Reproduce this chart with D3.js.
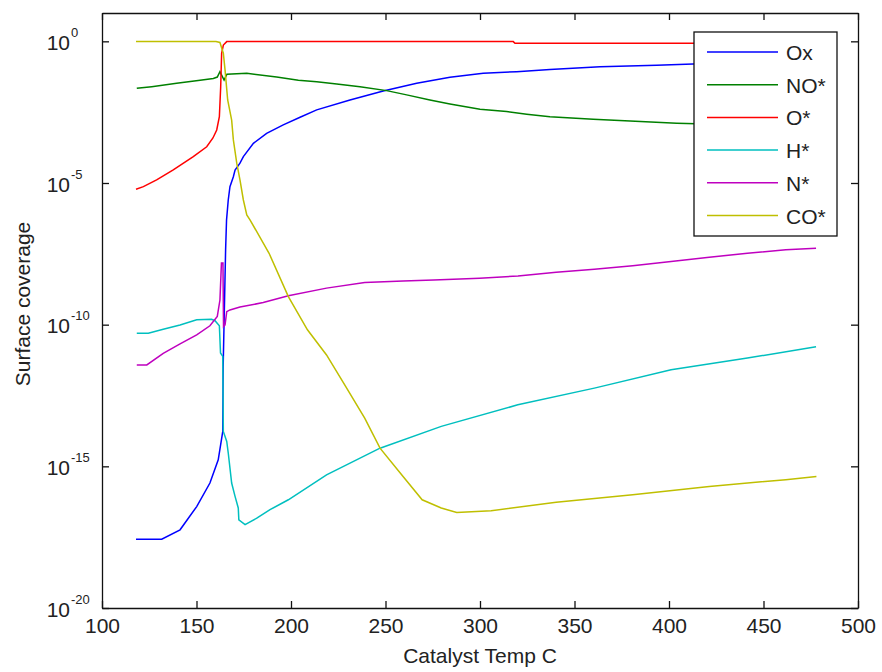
<!DOCTYPE html>
<html>
<head>
<meta charset="utf-8">
<script src="https://cdn.jsdelivr.net/npm/d3@7"></script>
<style>
  body { margin: 0; background: #fff; }
  svg text { font-family: "Liberation Sans", Arial, sans-serif; fill: #222; }
</style>
</head>
<body>
<div id="chart"></div>
<script>
// [catalyst temp C, log10(surface coverage)]
const ox = [[118,-17.57],[131.6,-17.57],[141.3,-17.24],[150.1,-16.42],[157.1,-15.59],[161.5,-14.77],
  [163.9,-13.77],[164.1,-11.5],[165.4,-7.36],[165.9,-6.30],[166.8,-5.60],[167.7,-5.13],[169.5,-4.78],
  [170.4,-4.54],[173.0,-4.30],[174.8,-4.07],[180.1,-3.60],[187.1,-3.25],[195.9,-2.95],[204.8,-2.68],
  [213.6,-2.42],[231.2,-2.07],[248.8,-1.75],[266.5,-1.48],[284.1,-1.27],[301.7,-1.13],[319.4,-1.07],
  [337.0,-0.99],[363.5,-0.90],[393.5,-0.84],[412.7,-0.80],[477.8,-0.69]];
const no = [[118.4,-1.66],[126.3,-1.60],[139.5,-1.48],[151.9,-1.37],[158.9,-1.31],[161.0,-1.26],
  [162.4,-1.07],[164.6,-1.37],[166.1,-1.16],[176.6,-1.13],[192.4,-1.26],[203.9,-1.37],[213.6,-1.43],
  [224.2,-1.51],[236.5,-1.60],[250.6,-1.74],[261.2,-1.89],[273.5,-2.07],[284.1,-2.21],[300.0,-2.40],
  [314.1,-2.48],[324.7,-2.57],[337.0,-2.66],[359.9,-2.75],[379.4,-2.81],[404.1,-2.89],[477.8,-3.02]];
const o = [[118.0,-5.22],[121.9,-5.13],[128.9,-4.89],[137.7,-4.54],[148.3,-4.07],[155.4,-3.72],
  [158.7,-3.41],[160.7,-3.13],[162.1,-2.66],[162.8,-1.60],[163.3,-0.42],[164.2,-0.13],[166.0,-0.01],
  [317.6,-0.01],[318.5,-0.07],[477.8,-0.07]];
const h = [[118.4,-10.30],[124.5,-10.30],[132.4,-10.16],[141.3,-10.01],[150.1,-9.83],[158.0,-9.81],
  [159.8,-9.86],[162.1,-10.04],[162.7,-11.00],[163.9,-11.12],[164.2,-13.77],[166.0,-14.12],
  [166.8,-14.53],[168.6,-15.59],[170.4,-16.06],[172.1,-16.47],[172.4,-16.89],[175.7,-17.06],
  [181.9,-16.83],[188.9,-16.53],[198.6,-16.18],[218.8,-15.30],[247.1,-14.36],[279.5,-13.59],
  [320.0,-12.83],[360.5,-12.24],[401.1,-11.59],[441.5,-11.18],[477.8,-10.78]];
const n = [[118.4,-11.42],[123.7,-11.42],[132.4,-11.01],[141.3,-10.68],[150.1,-10.36],[157.1,-10.04],
  [161.0,-9.71],[162.4,-9.13],[163.2,-7.82],[164.0,-7.82],[164.3,-10.07],[165.1,-10.01],[166.0,-9.54],
  [167.7,-9.48],[173.0,-9.38],[185.3,-9.22],[198.6,-8.98],[218.8,-8.71],[239.0,-8.51],[259.3,-8.46],
  [275.5,-8.42],[299.8,-8.36],[320.1,-8.28],[340.3,-8.15],[360.5,-8.04],[380.8,-7.92],[401.1,-7.77],
  [421.3,-7.62],[441.5,-7.48],[461.8,-7.36],[477.8,-7.30]];
const co = [[118.0,-0.01],[160.3,-0.01],[162.4,-0.04],[164.2,-0.42],[165.1,-1.01],[166.5,-2.07],
  [168.6,-2.78],[169.5,-3.48],[171.3,-4.30],[173.0,-4.89],[174.8,-5.60],[176.6,-6.13],[178.3,-6.30],
  [188.4,-7.48],[198.6,-9.01],[208.7,-10.18],[218.8,-11.07],[228.9,-12.18],[239.0,-13.30],
  [247.1,-14.36],[259.3,-15.36],[269.4,-16.18],[279.5,-16.47],[287.7,-16.63],[305.9,-16.57],
  [340.3,-16.27],[380.8,-16.00],[421.3,-15.71],[461.8,-15.47],[478.0,-15.36]];

const seriesNames = ["Ox", "NO*", "O*", "H*", "N*", "CO*"];
const seriesData = [ox, no, o, h, n, co];
const seriesColors = ["#0000ff", "#008000", "#ff0000", "#00bfbf", "#bf00bf", "#bfbf00"];

const xTicks = [100, 150, 200, 250, 300, 350, 400, 450, 500];
const yTickExp = [0, -5, -10, -15, -20];

const margin = {top: 13, right: 24, bottom: 64, left: 102};
const width = 882 - margin.left - margin.right;
const height = 672 - margin.top - margin.bottom;

const svg = d3.select("#chart").append("svg")
    .attr("width", 882)
    .attr("height", 672)
  .append("g")
    .attr("transform", "translate(" + margin.left + "," + margin.top + ")");

const x = d3.scaleLinear().domain([100, 500]).range([0, width]);
const y = d3.scaleLog().domain([1e-20, 1e1]).range([height, 0]);

// lines
const line = d3.line()
    .x(d => x(d[0]))
    .y(d => y(Math.pow(10, d[1])));

svg.selectAll("path.series")
    .data(seriesData)
  .enter().append("path")
    .attr("class", "series")
    .attr("d", line)
    .attr("fill", "none")
    .attr("stroke", (d, i) => seriesColors[i])
    .attr("stroke-width", 1.5);

// axes (MATLAB style box, ticks pointing inward)
const tickLen = 7;
const xAxis = svg.append("g")
    .attr("transform", "translate(0," + height + ")")
    .call(d3.axisBottom(x).tickValues(xTicks).tickSizeInner(-tickLen).tickSizeOuter(0).tickPadding(10));
xAxis.selectAll("text").style("font-size", "21px");

svg.append("g")
    .call(d3.axisTop(x).tickValues(xTicks).tickSizeInner(-tickLen).tickSizeOuter(0).tickFormat(""));

const yValues = yTickExp.map(e => Math.pow(10, e));
const yAxis = svg.append("g")
    .call(d3.axisLeft(y).tickValues(yValues).tickSizeInner(-tickLen).tickSizeOuter(0).tickFormat(""));

svg.append("g")
    .attr("transform", "translate(" + width + ",0)")
    .call(d3.axisRight(y).tickValues(yValues).tickSizeInner(-tickLen).tickSizeOuter(0).tickFormat(""));

svg.selectAll(".domain, .tick line").attr("stroke", "#111").attr("stroke-width", 1.3);

// y tick labels: 10 with superscript exponent
yAxis.selectAll(".tick").each(function(d, i) {
  const t = d3.select(this);
  t.append("text")
    .attr("x", -32)
    .attr("y", 8)
    .attr("text-anchor", "end")
    .style("font-size", "21px")
    .text("10");
  t.append("text")
    .attr("x", -31)
    .attr("y", -5)
    .attr("text-anchor", "start")
    .style("font-size", "13px")
    .text(yTickExp[i]);
});

// axis titles
svg.append("text")
    .attr("x", width / 2)
    .attr("y", 663 - margin.top)
    .attr("text-anchor", "middle")
    .style("font-size", "21px")
    .text("Catalyst Temp C");

svg.append("text")
    .attr("transform", "translate(" + (30 - margin.left) + "," + (304 - margin.top) + ") rotate(-90)")
    .attr("text-anchor", "middle")
    .style("font-size", "21px")
    .text("Surface coverage");

// legend
const legend = svg.append("g")
    .attr("transform", "translate(" + (694 - margin.left) + "," + (32 - margin.top) + ")");

legend.append("rect")
    .attr("width", 143)
    .attr("height", 204)
    .attr("fill", "#fff")
    .attr("stroke", "#111")
    .attr("stroke-width", 1.3);

const item = legend.selectAll("g.item")
    .data(seriesNames)
  .enter().append("g")
    .attr("class", "item")
    .attr("transform", (d, i) => "translate(0," + (20 + i * 32.7) + ")");

item.append("line")
    .attr("x1", 13)
    .attr("x2", 84)
    .attr("stroke", (d, i) => seriesColors[i])
    .attr("stroke-width", 1.5);

item.append("text")
    .attr("x", 92)
    .attr("y", 8)
    .style("font-size", "21px")
    .text(d => d);
</script>
</body>
</html>
